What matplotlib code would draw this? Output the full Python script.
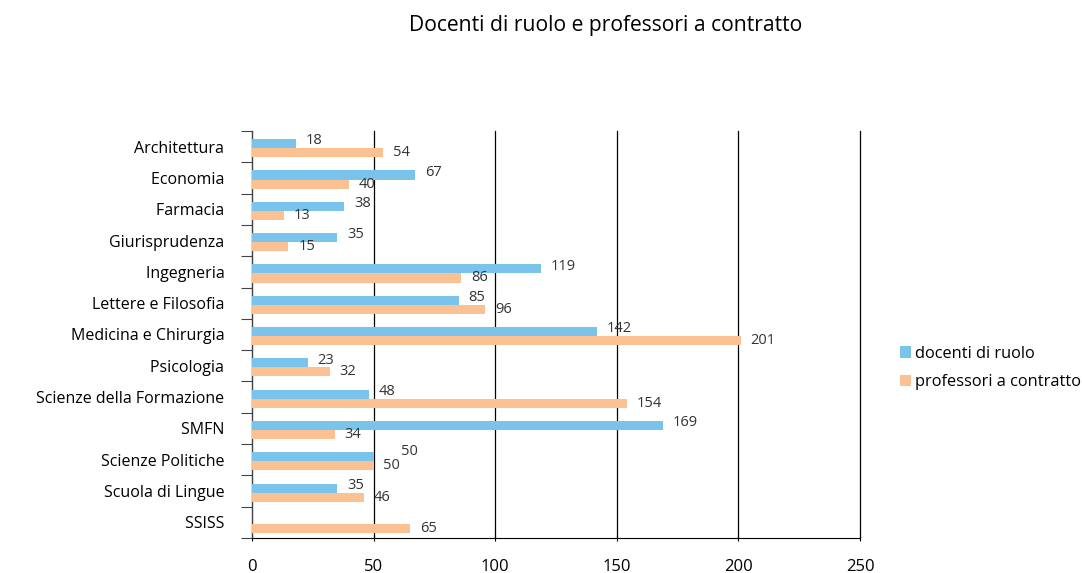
import numpy as np
import matplotlib.pyplot as plt

categories = ["Architettura", "Economia", "Farmacia", "Giurisprudenza", "Ingegneria",
              "Lettere e Filosofia", "Medicina e Chirurgia", "Psicologia",
              "Scienze della Formazione", "SMFN", "Scienze Politiche",
              "Scuola di Lingue", "SSISS"]
docenti = [18, 67, 38, 35, 119, 85, 142, 23, 48, 169, 50, 35, None]
contratto = [54, 40, 13, 15, 86, 96, 201, 32, 154, 34, 50, 46, 65]
x_ticks = [0, 50, 100, 150, 200, 250]

blue = "#7AC4EC"
orange = "#FBC193"
plt.rcParams['font.family'] = ['Open Sans', 'DejaVu Sans']

fig = plt.figure(figsize=(10.82, 5.73), dpi=100)
ax = fig.add_axes([0.2329, 0.0611, 0.5619, 0.7103])

n = len(categories)
y = np.arange(n)
h = 0.29
off = 0.05
d_vals = np.array([np.nan if v is None else v for v in docenti], dtype=float)
c_vals = np.array(contratto, dtype=float)

ax.barh(y - h / 2 + off, d_vals, height=h, color=blue, label="docenti di ruolo", zorder=3)
ax.barh(y + h / 2 + off, c_vals, height=h, color=orange, label="professori a contratto", zorder=3)

for i in range(n):
    if not np.isnan(d_vals[i]):
        # labels that would collide with the orange one get nudged up/right, like the original
        dx, dy = (7, 2)
        if abs(d_vals[i] - c_vals[i]) < 6:
            dx, dy = (20, 4)
        ax.annotate(f"{int(d_vals[i])}", (d_vals[i], y[i] - h / 2 + off), xytext=(dx, dy),
                    textcoords="offset points", va="center", ha="left", fontsize=10.5, color="#333333")
    ax.annotate(f"{int(c_vals[i])}", (c_vals[i], y[i] + h / 2 + off), xytext=(7, 0),
                textcoords="offset points", va="center", ha="left", fontsize=10.5, color="#333333")

ax.set_xlim(0, 250)
ax.set_ylim(n - 0.5, -0.5)
ax.set_xticks(x_ticks)
ax.set_xticklabels([str(t) for t in x_ticks], fontsize=12)
ax.tick_params(axis="x", length=4, direction="inout", pad=13)

ax.set_yticks(np.arange(n + 1) - 0.5)
ax.set_yticklabels([])
ax.set_yticks(y, minor=True)
ax.set_yticklabels([c + " " for c in categories], minor=True, fontsize=11.5)
ax.tick_params(axis="y", which="major", length=8, color="#444444")
ax.tick_params(axis="y", which="minor", length=0, pad=17)

ax.grid(axis="x", color="black", linewidth=0.9, zorder=0)
for gl in ax.get_xgridlines():
    gl.set_clip_on(False)
for s in ["top", "right"]:
    ax.spines[s].set_visible(False)
ax.spines["left"].set_color("#444444")
ax.spines["bottom"].set_color("black")

fig.text(0.56, 0.955, "Docenti di ruolo e professori a contratto", ha="center", va="center", fontsize=15.2)

fig.legend(loc="center left", bbox_to_anchor=(0.818, 0.358), frameon=False, fontsize=11.8,
           handlelength=0.7, handleheight=0.7, handletextpad=0.2, labelspacing=0.75)

fig.savefig("out.png", dpi=100)
